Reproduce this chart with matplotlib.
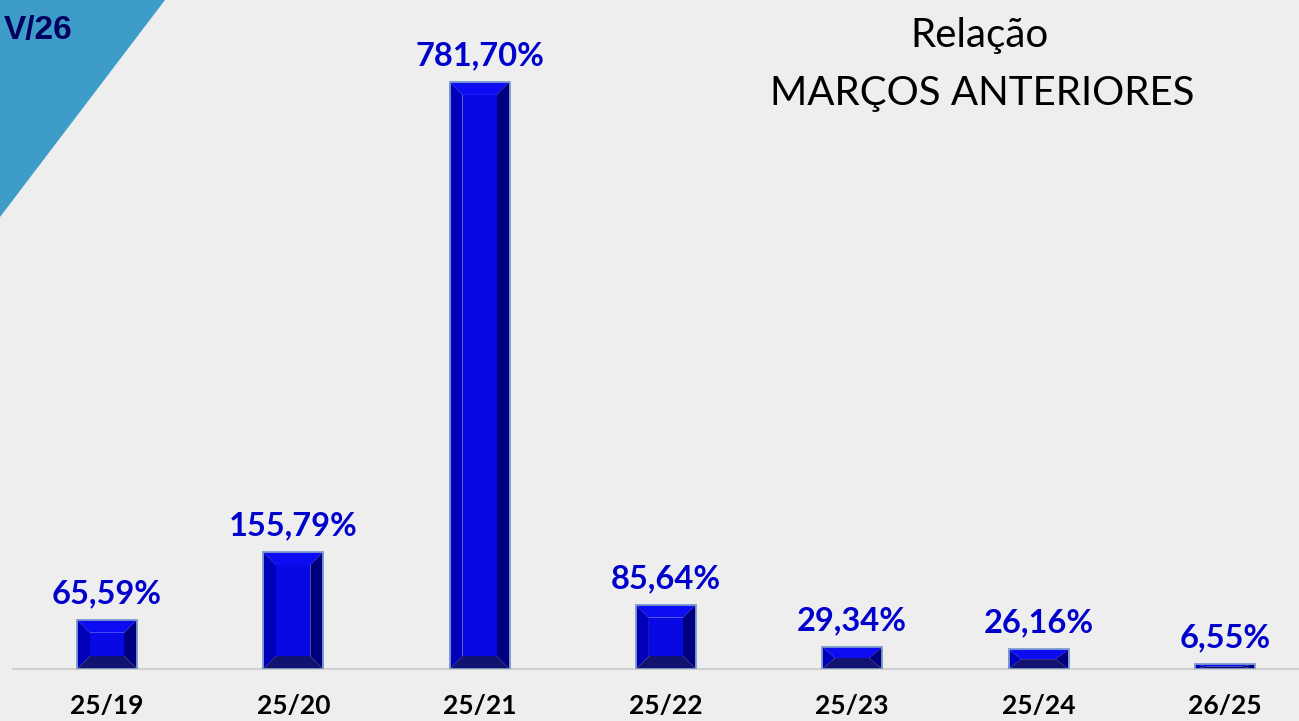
import matplotlib
matplotlib.use('Agg')
import matplotlib.pyplot as plt
from matplotlib.patches import Polygon
import numpy as np


categories = ['25/19', '25/20', '25/21', '25/22', '25/23', '25/24', '26/25']
values = [65.59, 155.79, 781.70, 85.64, 29.34, 26.16, 6.55]
value_labels = ['65,59%', '155,79%', '781,70%', '85,64%', '29,34%', '26,16%', '6,55%']

BG = '#eeeeee'
W, H, DPI = 1299, 721, 100


def bevel_bar(ax, x, w, h, px_x, px_y, size=13):
    '''
    Draws a bar as five faces (top, left, right, bottom, middle) to mimic
    the office-style bevel. px_x / px_y are pixels per data unit.
    '''
    dx = min(size / px_x, w / 2.0)
    dy = min(size / px_y, h / 2.0)
    x0, x1 = x - w / 2.0, x + w / 2.0
    faces = [
        ([(x0, h), (x1, h), (x1 - dx, h - dy), (x0 + dx, h - dy)], '#0c0cf2'),
        ([(x0, 0), (x0, h), (x0 + dx, h - dy), (x0 + dx, dy)], '#0000b8'),
        ([(x1, 0), (x1, h), (x1 - dx, h - dy), (x1 - dx, dy)], '#00007e'),
        ([(x0, 0), (x1, 0), (x1 - dx, dy), (x0 + dx, dy)], '#121270'),
        ([(x0 + dx, dy), (x1 - dx, dy), (x1 - dx, h - dy), (x0 + dx, h - dy)], '#0808e4'),
    ]
    for pts, c in faces:
        ax.add_patch(Polygon(pts, closed=True, facecolor=c, edgecolor='none', zorder=3))
    ax.add_patch(Polygon([(x0, 0), (x0, h), (x1, h), (x1, 0)], closed=True,
                         facecolor='none', edgecolor='#7d9ccc', lw=1.3, zorder=4))


fig = plt.figure(figsize=(W / DPI, H / DPI), dpi=DPI, facecolor=BG)

# corner triangle
fig.patches.append(Polygon([(0, 1), (165 / W, 1), (0, 1 - 217 / H)], closed=True,
                           transform=fig.transFigure, facecolor='#3d9dc8',
                           edgecolor='none', zorder=0))
fig.text(4 / W, 1 - 30 / H, 'V/26', fontsize=24, fontweight='bold', color='#00005e',
         family='Liberation Sans', va='center', ha='left')

# axes geometry (pixels)
left_px, right_px, base_px = 13, 1299, 669
step = 186.3
c0 = 107
ax = fig.add_axes([left_px / W, (H - base_px) / H, (right_px - left_px) / W, base_px / H])
ax.set_facecolor(BG)

px_y = 0.751
px_x = step
ax.set_xlim((left_px - c0) / step, (right_px - c0) / step)
ax.set_ylim(0, base_px / px_y)

x = np.arange(len(categories))
bw = 60 / step
for xi, v in zip(x, values):
    bevel_bar(ax, xi, bw, v, px_x, px_y)

for xi, v, lab in zip(x, values, value_labels):
    ax.annotate(lab, (xi, v), xytext=(0, 12), textcoords='offset points',
                ha='center', va='baseline', fontsize=23.5, fontweight='bold',
                color='#0000cc', family='Lato')

for s in ['top', 'right', 'left']:
    ax.spines[s].set_visible(False)
ax.spines['bottom'].set_color('#d0d0d0')
ax.spines['bottom'].set_linewidth(1.5)
ax.set_yticks([])
ax.set_xticks(x)
ax.set_xticklabels(categories, fontsize=19, fontweight='bold', family='Lato')
ax.tick_params(axis='x', length=0, pad=18)

fig.text(980 / W, 1 - 35 / H, 'Relação', fontsize=29, family='Lato', ha='center', va='center')
fig.text(982 / W, 1 - 93 / H, 'MARÇOS ANTERIORES', fontsize=29, family='Lato',
         ha='center', va='center')

fig.savefig('out.png', dpi=DPI, facecolor=BG)
